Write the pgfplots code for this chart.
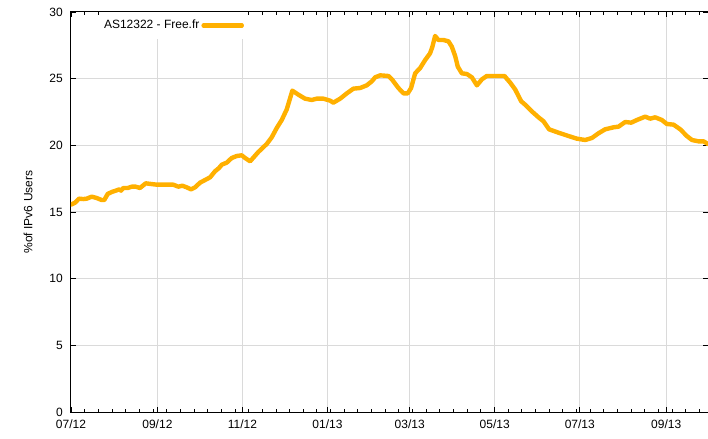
\documentclass[border=0pt]{standalone}
\usepackage{fontspec}
\setmainfont{Liberation Sans}
\usepackage{pgfplots}
\pgfplotsset{compat=1.18}
\definecolor{lineor}{RGB}{255,176,0}
\definecolor{gridg}{RGB}{218,218,218}
\begin{document}
\fontsize{12bp}{14bp}\selectfont
\begin{tikzpicture}
\useasboundingbox (-71bp,-27bp) rectangle (637bp,412bp);
\begin{axis}[
  at={(0,0)}, anchor=south west,
  scale only axis, width=637bp, height=400bp,
  xmin=0, xmax=457, ymin=0, ymax=30,
  xtick={0,62,123,184,243,304,365,427},
  xticklabels={07/12,09/12,11/12,01/13,03/13,05/13,07/13,09/13},
  minor xtick={9.8,19.6,...,457},
  ytick={0,5,...,30},
  grid=major,
  major grid style={gridg, line width=1bp},
  tick align=inside,
  major tick length=5bp, minor tick length=3bp,
  axis line style={line width=1bp},
  every tick/.style={black, line width=0.8bp},
  /pgf/number format/assume math mode=true,
  tick label style={font=\fontsize{12bp}{14bp}\selectfont},
  yticklabel style={xshift=-4bp},
  xticklabel style={yshift=-4bp},
  ylabel={\%of IPv6 Users},
  ylabel style={at={(axis description cs:-0.0675,0.5)}, anchor=center, font=\fontsize{12bp}{14bp}\selectfont},
  legend style={at={(axis description cs:0.2763,1)}, anchor=north east, draw=none, fill=white,
    inner xsep=3bp, inner ysep=6bp, font=\fontsize{12bp}{14bp}\selectfont},
  legend plot pos=right,
  legend cell align=right,
  legend image code/.code={\path (0bp,0bp) -- (38bp,0bp); \draw[#1] (4bp,0bp) -- (38bp,0bp);},
]
\addplot[lineor, line width=4.4bp, line join=round, line cap=round] coordinates {
(0,15.55) (2.9,15.7) (5.7,16.0) (8.8,15.97) (11.3,16.0) (14.9,16.15) (18.4,16.05)
(22.0,15.9) (23.9,15.9) (26.3,16.35) (29.2,16.5) (32.1,16.6) (34.7,16.7) (35.9,16.6)
(37.5,16.8) (40.7,16.8) (43.6,16.9) (46.4,16.9) (49.5,16.8) (53.6,17.15) (57.4,17.1)
(61.5,17.05) (67.5,17.05) (73.4,17.05) (77.0,16.9) (79.9,16.97) (83.0,16.85) (86.1,16.7)
(89.0,16.85) (92.6,17.2) (96.2,17.4) (99.8,17.6) (103.3,18.05) (106.2,18.3) (108.2,18.55)
(111.7,18.7) (115.3,19.05) (118.9,19.2) (122.5,19.25) (124.9,19.05) (128.5,18.8)
(134.4,19.5) (140.4,20.1) (144.0,20.6) (147.6,21.3) (151.2,21.9) (154.8,22.7) (158.8,24.1)
(163.1,23.8) (167.9,23.5) (172.7,23.4) (176.3,23.5) (181.1,23.5) (185.9,23.35) (188.2,23.2)
(193.1,23.5) (197.9,23.9) (202.6,24.25) (207.4,24.3) (212.2,24.5) (215.8,24.8) (218.2,25.1)
(221.8,25.25) (227.7,25.2) (230.2,24.95) (234.9,24.3) (238.5,23.9) (241.6,23.9) (244.0,24.3)
(246.9,25.4) (250.5,25.8) (254.1,26.4) (257.6,26.9) (259.3,27.4) (261.2,28.2) (263.6,27.9)
(267.2,27.9) (270.8,27.8) (273.2,27.4) (275.6,26.7) (277.5,25.9) (280.4,25.4) (284.0,25.35)
(287.6,25.1) (291.2,24.5) (294.8,24.95) (298.3,25.2) (304.3,25.2) (311.0,25.2) (315.1,24.7)
(318.6,24.2) (323.0,23.3) (325.8,23.05) (330.6,22.55) (335.4,22.1) (339.0,21.8) (343.0,21.2)
(349.7,20.95) (356.9,20.7) (362.9,20.5) (368.9,20.4) (373.7,20.55) (378.4,20.9) (383.2,21.2)
(389.2,21.35) (392.8,21.4) (397.6,21.75) (401.9,21.7) (406.0,21.9) (411.9,22.15) (415.5,22.0)
(419.1,22.1) (423.9,21.9) (427.5,21.6) (432.3,21.55) (437.1,21.2) (441.8,20.7) (445.5,20.4)
(450.2,20.3) (453.8,20.3) (457,20.1)
};
\addlegendentry{AS12322 - Free.fr}
\end{axis}
\end{tikzpicture}
\end{document}
